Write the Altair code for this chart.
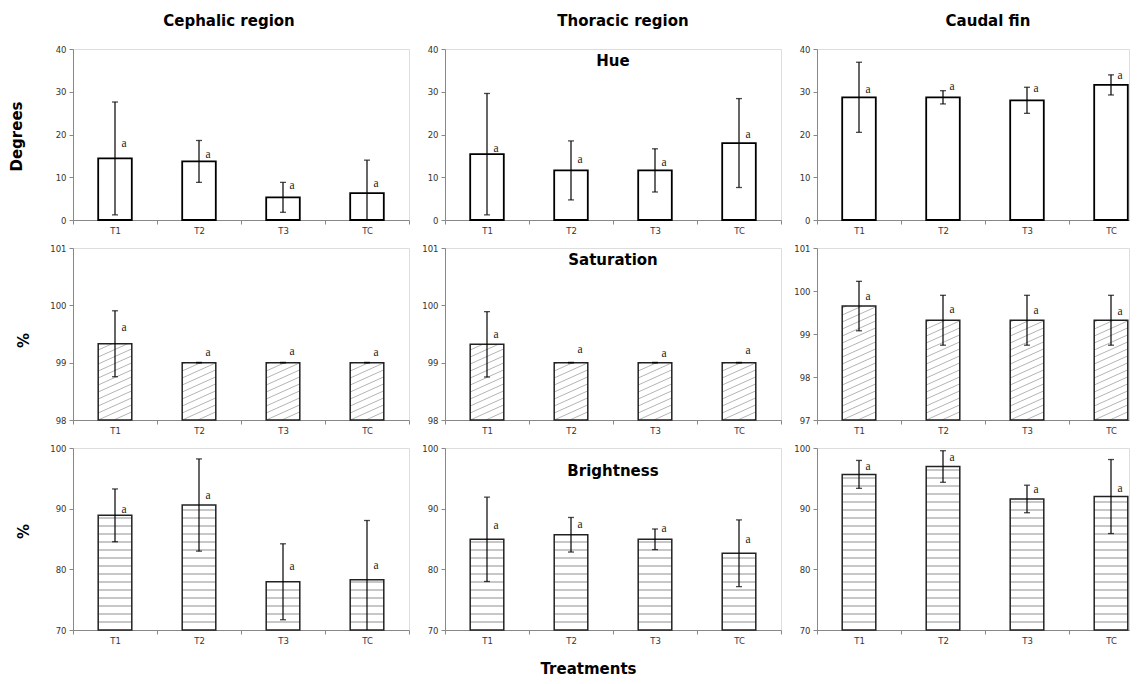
import json
import numpy as np
import pandas as pd
import altair as alt

treatments = ["T1", "T2", "T3", "TC"]
regions = ["Cephalic region", "Thoracic region", "Caudal fin"]
variables = ["Hue", "Saturation", "Brightness"]
y_titles = ["Degrees", "%", "%"]

# ---- Hue (degrees) ----
hue_ceph_mean = [14.4, 13.7, 5.3, 6.3]
hue_ceph_sd = [13.2, 4.9, 3.5, 7.7]
hue_ceph_letter = [17.7, 15.3, 8.0, 8.5]
hue_thor_mean = [15.4, 11.6, 11.6, 18.0]
hue_thor_sd = [14.2, 6.9, 5.05, 10.4]
hue_thor_letter = [16.6, 14.1, 13.4, 19.8]
hue_caud_mean = [28.7, 28.7, 28.0, 31.6]
hue_caud_sd = [8.2, 1.55, 3.05, 2.35]
hue_caud_letter = [30.5, 31.2, 30.6, 33.75]

# ---- Saturation (%) ----
sat_ceph_mean = [99.33, 99.0, 99.0, 99.0]
sat_ceph_sd = [0.575, 0.005, 0.005, 0.005]
sat_ceph_letter = [99.61, 99.17, 99.19, 99.17]
sat_thor_mean = [99.32, 99.0, 99.0, 99.0]
sat_thor_sd = [0.57, 0.005, 0.005, 0.005]
sat_thor_letter = [99.49, 99.22, 99.15, 99.2]
sat_caud_mean = [99.65, 99.32, 99.32, 99.32]
sat_caud_sd = [0.575, 0.58, 0.58, 0.58]
sat_caud_letter = [99.86, 99.55, 99.53, 99.51]

# ---- Brightness (%) ----
bri_ceph_mean = [88.9, 90.6, 77.95, 78.3]
bri_ceph_sd = [4.35, 7.6, 6.26, 9.75]
bri_ceph_letter = [89.76, 92.05, 80.34, 80.5]
bri_thor_mean = [84.95, 85.7, 84.95, 82.65]
bri_thor_sd = [6.95, 2.85, 1.7, 5.5]
bri_thor_letter = [87.18, 87.35, 86.64, 84.84]
bri_caud_mean = [95.65, 96.95, 91.6, 92.0]
bri_caud_sd = [2.3, 2.6, 2.27, 6.1]
bri_caud_letter = [96.95, 98.42, 93.07, 93.18]

series = {
    (0, 0): (hue_ceph_mean, hue_ceph_sd, hue_ceph_letter),
    (0, 1): (hue_thor_mean, hue_thor_sd, hue_thor_letter),
    (0, 2): (hue_caud_mean, hue_caud_sd, hue_caud_letter),
    (1, 0): (sat_ceph_mean, sat_ceph_sd, sat_ceph_letter),
    (1, 1): (sat_thor_mean, sat_thor_sd, sat_thor_letter),
    (1, 2): (sat_caud_mean, sat_caud_sd, sat_caud_letter),
    (2, 0): (bri_ceph_mean, bri_ceph_sd, bri_ceph_letter),
    (2, 1): (bri_thor_mean, bri_thor_sd, bri_thor_letter),
    (2, 2): (bri_caud_mean, bri_caud_sd, bri_caud_letter),
}

y_ticks = {
    (0, 0): [0, 10, 20, 30, 40], (0, 1): [0, 10, 20, 30, 40], (0, 2): [0, 10, 20, 30, 40],
    (1, 0): [98, 99, 100, 101], (1, 1): [98, 99, 100, 101], (1, 2): [97, 98, 99, 100, 101],
    (2, 0): [70, 80, 90, 100], (2, 1): [70, 80, 90, 100], (2, 2): [70, 80, 90, 100],
}

BAND = 84                 # pixels per treatment slot
WIDTHS = [336, 336, 312]  # last panel is cut at the page edge, as in the original
HEIGHTS = [171, 172, 182]
HALF = 0.2
FONT = "DejaVu Sans"

label_expr = ("datum.value % 1 === 0 ? '' : " + json.dumps(treatments).replace('"', "'")
              + "[floor(datum.value)]")


def hatch_diag(pos, means, lo, hi, H, slope=0.45, spacing=7.0):
    pxy = H / (hi - lo)
    w = 2 * HALF * BAND
    rows = []
    for p, m in zip(pos, means):
        xa = p - HALF
        hpx = (m - lo) * pxy
        k0 = int(np.floor(-slope * w / spacing))
        k1 = int(np.ceil(hpx / spacing))
        for k in range(k0, k1 + 1):
            b = k * spacing
            u0 = max(0.0, -b / slope)
            u1 = min(w, (hpx - b) / slope)
            if u1 - u0 > 0.8:
                rows.append({"hx": xa + u0 / BAND, "hy": lo + (b + slope * u0) / pxy,
                             "hx2": xa + u1 / BAND, "hy2": lo + (b + slope * u1) / pxy})
    return pd.DataFrame(rows)


def hatch_horiz(pos, means, lo, hi, H, spacing=8.0):
    pxy = H / (hi - lo)
    rows = []
    for p, m in zip(pos, means):
        hpx = (m - lo) * pxy
        v = spacing
        while v < hpx - 1.5:
            rows.append({"hx": p - HALF, "hy": lo + v / pxy, "hx2": p + HALF, "hy2": lo + v / pxy})
            v += spacing
    return pd.DataFrame(rows)


def panel(r, c):
    means, sds, letters = series[(r, c)]
    ticks = y_ticks[(r, c)]
    lo, hi = ticks[0], ticks[-1]
    H = HEIGHTS[r]
    W = WIDTHS[c]
    pos = [i + 0.5 for i in range(len(treatments))]
    df = pd.DataFrame({
        "treatment": treatments,
        "pos": pos,
        "x0": [p - HALF for p in pos],
        "x1": [p + HALF for p in pos],
        "mean": means,
        "lo": [m - s for m, s in zip(means, sds)],
        "hi": [m + s for m, s in zip(means, sds)],
        "base": [lo] * len(treatments),
        "letter_y": letters,
        "letter": ["a"] * len(treatments),
    })
    xmax = W / BAND
    xscale = alt.Scale(domain=[0, xmax], nice=False, zero=False)
    yscale = alt.Scale(domain=[lo, hi], nice=False, zero=False)
    xaxis_kw = dict(
        values=[i / 2 for i in range(2 * len(treatments) + 1) if i / 2 <= xmax],
        labelExpr=label_expr, labelOverlap=False, labelFlush=False,
        tickOpacity={"condition": {"test": "datum.value % 1 === 0", "value": 1}, "value": 0},
        tickSize=4, tickColor="#888888", domainColor="#888888", labelPadding=2,
        labelFont=FONT, labelFontSize=8.5, labelColor="#333333", grid=False,
    )
    xtitle = None
    if r == 2 and c == 1:
        xaxis_kw.update(titleFont=FONT, titleFontSize=15, titleFontWeight="bold",
                        titleColor="black", titleX=143, titleY=38,
                        titleBaseline="middle", titleAlign="center")
        xtitle = "Treatments"
    yaxis_kw = dict(values=ticks, format="d", tickSize=4, tickColor="#888888",
                    domainColor="#888888", labelPadding=3, labelFont=FONT, labelFontSize=8.5,
                    labelColor="#333333", grid=False)
    ytitle = None
    if c == 0:
        ytitle = y_titles[r]
        tx = -57 if r == 0 else -50
        ty = [87, 92, 83][r]
        yaxis_kw.update(titleFont=FONT, titleFontSize=15, titleFontWeight="bold",
                        titleColor="black", titleX=tx, titleY=ty, titleAngle=270,
                        titleBaseline="middle", titleAlign="center")

    edge = "#000000" if r == 0 else "#222222"
    edge_w = 1.8 if r == 0 else 1.5
    base = alt.Chart(df)
    bars = base.mark_bar(fill="white", strokeWidth=0).encode(
        x=alt.X("x0:Q", scale=xscale, axis=alt.Axis(**xaxis_kw), title=xtitle),
        x2="x1:Q",
        y=alt.Y("mean:Q", scale=yscale, axis=alt.Axis(**yaxis_kw), title=ytitle),
        y2="base:Q",
    )
    layers = [bars]
    if r == 1:
        hd = hatch_diag(pos, means, lo, hi, H)
        layers.append(alt.Chart(hd).mark_rule(color="#a6a6a6", strokeWidth=0.85).encode(
            x="hx:Q", y="hy:Q", x2="hx2:Q", y2="hy2:Q"))
    elif r == 2:
        hd = hatch_horiz(pos, means, lo, hi, H)
        layers.append(alt.Chart(hd).mark_rule(color="#b4b4b4", strokeWidth=1.5).encode(
            x="hx:Q", y="hy:Q", x2="hx2:Q", y2="hy2:Q"))
    outline = base.mark_bar(fillOpacity=0, stroke=edge, strokeWidth=edge_w).encode(
        x="x0:Q", x2="x1:Q", y="mean:Q", y2="base:Q")
    err = base.mark_rule(color="black", strokeWidth=1.2, clip=True).encode(
        x="pos:Q", y="lo:Q", y2="hi:Q")
    cap_hi = base.mark_tick(orient="horizontal", size=6, thickness=1.3, color="black",
                            clip=True).encode(x="pos:Q", y="hi:Q")
    cap_lo = base.mark_tick(orient="horizontal", size=6, thickness=1.3, color="black",
                            clip=True).encode(x="pos:Q", y="lo:Q")
    letters_layer = base.mark_text(font="Liberation Serif", fontSize=11.5, dx=9,
                                   color="#222222").encode(
        x="pos:Q", y="letter_y:Q", text="letter:N")
    layers += [outline, err, cap_hi, cap_lo, letters_layer]
    if c == 1:
        var_y = [12, 12, 23][r]
        lab = alt.Chart(pd.DataFrame({"label": [variables[r]]})).mark_text(
            font=FONT, fontSize=15, fontWeight="bold", color="black", baseline="middle"
        ).encode(x=alt.value(W / 2), y=alt.value(var_y), text="label:N")
        layers.append(lab)
    props = dict(width=W, height=H)
    if r == 0:
        props["title"] = alt.TitleParams(regions[c], font=FONT, fontSize=15, fontWeight="bold",
                                         color="black", anchor="middle", baseline="alphabetic",
                                         offset=4, dx=[-12, 10, 15][c])
    return alt.layer(*layers).properties(**props)


panels = [panel(r, c) for r in range(3) for c in range(3)]

chart = alt.concat(*panels, columns=3, spacing={"row": 28, "column": 36},
                   bounds="flush").properties(
    padding={"left": 0, "top": 5, "right": 0, "bottom": 0}
).configure_view(stroke=None).configure(background="white")

chart.save("out.html", embed_options={"renderer": "svg", "actions": False})
